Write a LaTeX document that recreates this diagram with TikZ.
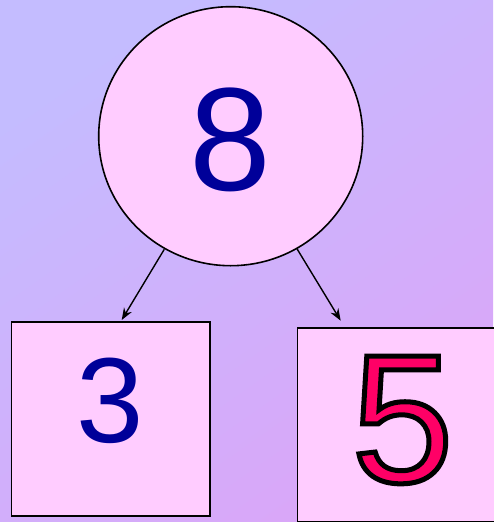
\documentclass[tikz,border=0pt]{standalone}
\usepackage{fontspec}
\setmainfont{Liberation Sans}
\usetikzlibrary{arrows.meta,shapes.geometric}
\definecolor{bgA}{HTML}{C4BCFF}
\definecolor{bgB}{HTML}{DAA6F8}
\definecolor{boxfill}{HTML}{FFCCFF}
\definecolor{numblue}{HTML}{000099}
\definecolor{numred}{HTML}{FF0066}
\newcommand{\outlinetext}[1]{\special{pdf:code 2 Tr 5 w 0 0 0 RG}#1\special{pdf:code 0 Tr 1 w}}
\tikzset{
  shape box/.style={draw=black, line width=1.6pt, fill=boxfill},
  conn/.style={draw=black, line width=1.4pt, -{Stealth[length=12pt,width=9pt]}},
}
\begin{document}
\begin{tikzpicture}[x=1pt,y=-1pt]
\useasboundingbox (0,0) rectangle (493,522);
\shade[top color=bgA, bottom color=bgB, shading angle=35] (0,0) rectangle (493,522);
\node[shape box, ellipse, minimum width=264pt, minimum height=259pt, inner sep=0pt] (top) at (230.7,136.2) {};
\node[shape box, rectangle, minimum width=198.3pt, minimum height=194pt, inner sep=0pt, anchor=north west] (left) at (10.7,321) {};
\node[shape box, rectangle, minimum width=200pt, minimum height=193.7pt, inner sep=0pt, anchor=north west] (right) at (296.7,327) {};
\node[text=numblue, font=\fontsize{147}{147}\selectfont, inner sep=0pt] (eight) at (230.7,140.2) {8};
\node[text=numblue, font=\fontsize{121}{121}\selectfont, inner sep=0pt] (three) at (110,401) {3};
\node[text=numred, font=\fontsize{183}{183}\selectfont, inner sep=0pt] (five) at (402.5,420) {\outlinetext{5}};
\coordinate (la) at (164.3,249.3);
\coordinate (lb) at (121.7,320);
\coordinate (ra) at (296.7,248.3);
\coordinate (rb) at (340.7,320.7);
\draw[conn] (la) -- (lb);
\draw[conn] (ra) -- (rb);
\end{tikzpicture}
\end{document}
